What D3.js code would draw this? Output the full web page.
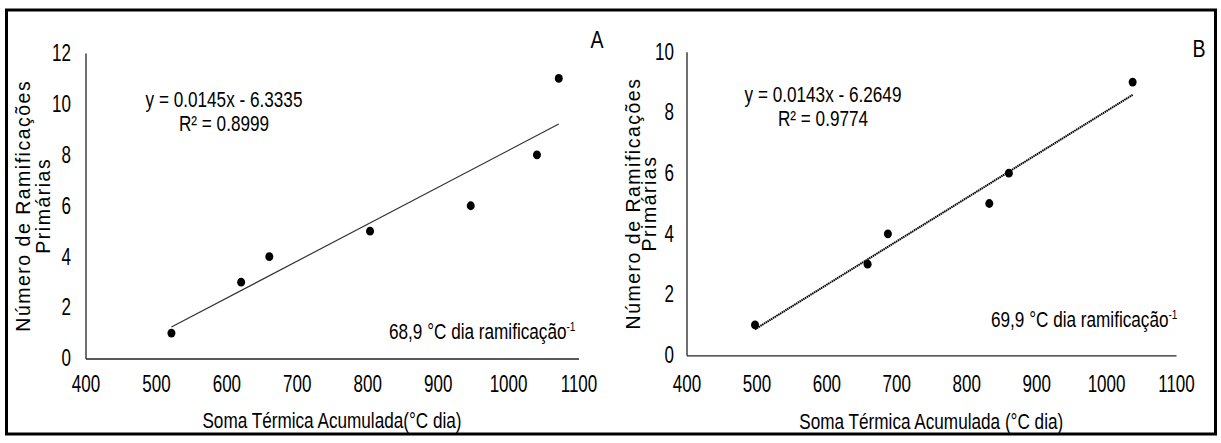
<!DOCTYPE html>
<html>
<head>
<meta charset="utf-8">
<script src="https://cdnjs.cloudflare.com/ajax/libs/d3/7.8.5/d3.min.js"></script>
<style>
  body { margin: 0; background: #fff; }
  svg { display: block; }
  text { font-family: "Liberation Sans", Arial, sans-serif; fill: #000; }
</style>
</head>
<body>
<svg id="chart" width="1221" height="443"></svg>
<script>

// data
var xTicks = [400, 500, 600, 700, 800, 900, 1000, 1100];
var yTicksA = [0, 2, 4, 6, 8, 10, 12];
var yTicksB = [0, 2, 4, 6, 8, 10];

var thermalA = [522, 621, 661, 804, 947, 1041, 1072];
var branchesA = [1, 3, 4, 5, 6, 8, 11];
var thermalB = [498, 659, 688, 833, 861, 1038];
var branchesB = [1, 3, 4, 5, 6, 9];

var slopes = [0.0145, 0.0143];
var intercepts = [-6.3335, -6.2649];
var eqLabels = ["y = 0.0145x - 6.3335", "y = 0.0143x - 6.2649"];
var r2Labels = ["R² = 0.8999", "R² = 0.9774"];
var rateLabels = ["68,9 °C dia ramificação", "69,9 °C dia ramificação"];
var panelLetters = ["A", "B"];
var xTitles = ["Soma Térmica Acumulada(°C dia)", "Soma Térmica Acumulada (°C dia)"];
var yTitle1 = "Número de Ramificações";
var yTitle2 = "Primárias";

var NARROW = 0.78;

var svg = d3.select("#chart");

// outer frame
svg.append("rect")
    .attr("x", 6.5).attr("y", 10)
    .attr("width", 1209).attr("height", 424)
    .attr("fill", "none")
    .attr("stroke", "#000")
    .attr("stroke-width", 3);

// condensed look: move x/y into a transform and squeeze horizontally
function narrow(sel, k) {
    sel.each(function() {
        var t = d3.select(this);
        var x = +t.attr("x") || 0, y = +t.attr("y") || 0;
        t.attr("x", 0).attr("y", 0)
         .attr("transform", "translate(" + x + "," + y + ") scale(" + (k || NARROW) + ",1)");
    });
}

var panels = [
    {xs: thermalA, ys: branchesA, yTicks: yTicksA, yMax: 12,
     xRange: [85.5, 578.5], yRange: [358.5, 53],
     xPad: 17.5, yPad: 14.5, eqX: 224, eqY: [106.5, 130.5],
     rateX: 575.5, rateY: 338.5, letter: [597, 48],
     xTitleY: 428, yTitleX: [29.5, 50], dotted: false},
    {xs: thermalB, ys: branchesB, yTicks: yTicksB, yMax: 10,
     xRange: [686.5, 1176], yRange: [355.3, 51.7],
     xPad: 20.5, yPad: 12.5, eqX: 823, eqY: [102, 125.8],
     rateX: 1177.5, rateY: 326.5, letter: [1199, 57],
     xTitleY: 428.5, yTitleX: [640, 656], dotted: true}
];

panels.forEach(function(p, i) {
    var x = d3.scaleLinear().domain([400, 1100]).range(p.xRange);
    var y = d3.scaleLinear().domain([0, p.yMax]).range(p.yRange);
    var g = svg.append("g");

    var xAxis = g.append("g")
        .attr("transform", "translate(0," + p.yRange[0] + ")")
        .call(d3.axisBottom(x).tickValues(xTicks).tickFormat(d3.format("d"))
              .tickSize(0).tickPadding(p.xPad));
    var yAxis = g.append("g")
        .attr("transform", "translate(" + p.xRange[0] + ",0)")
        .call(d3.axisLeft(y).tickValues(p.yTicks).tickFormat(d3.format("d"))
              .tickSize(0).tickPadding(p.yPad));

    [xAxis, yAxis].forEach(function(a) {
        a.attr("font-size", 23).attr("font-family", null);
        a.select(".domain").attr("stroke", "#222").attr("stroke-width", 1.3);
        a.selectAll("text").attr("fill", "#000");
        narrow(a.selectAll("text"), 0.74);
    });

    // trend line from the fitted equation, across the data range
    var x0 = d3.min(p.xs), x1 = d3.max(p.xs);
    var fit = function(v) { return slopes[i] * v + intercepts[i]; };
    var trend = g.append("line")
        .attr("x1", x(x0)).attr("y1", y(fit(x0)))
        .attr("x2", x(x1)).attr("y2", y(fit(x1)))
        .attr("stroke", p.dotted ? "#000" : "#333")
        .attr("stroke-width", p.dotted ? 2 : 1.2);
    if (p.dotted)
        trend.attr("stroke-dasharray", "1.5,0.6");

    g.selectAll(".dot")
        .data(d3.range(p.xs.length))
        .enter().append("ellipse")
        .attr("class", "dot")
        .attr("cx", function(d) { return x(p.xs[d]); })
        .attr("cy", function(d) { return y(p.ys[d]); })
        .attr("rx", 4).attr("ry", 4.4)
        .attr("fill", "#000");

    // equation + R2
    var eq = g.append("g").attr("font-size", 22).attr("text-anchor", "middle");
    eq.append("text").attr("x", p.eqX).attr("y", p.eqY[0]).text(eqLabels[i]);
    eq.append("text").attr("x", p.eqX).attr("y", p.eqY[1]).text(r2Labels[i]);
    narrow(eq.selectAll("text"));

    // rate annotation with superscript -1
    var rate = g.append("text")
        .attr("x", p.rateX).attr("y", p.rateY)
        .attr("font-size", 22)
        .attr("text-anchor", "end");
    rate.append("tspan").text(rateLabels[i]);
    rate.append("tspan").attr("font-size", 13).attr("dy", -8).text("-1");
    narrow(rate);

    // panel letter
    var letter = g.append("text")
        .attr("x", p.letter[0]).attr("y", p.letter[1])
        .attr("font-size", 23)
        .attr("text-anchor", "middle")
        .text(panelLetters[i]);
    narrow(letter, 0.85);

    // axis titles
    var xt = g.append("text")
        .attr("x", (p.xRange[0] + p.xRange[1]) / 2)
        .attr("y", p.xTitleY)
        .attr("font-size", 22)
        .attr("text-anchor", "middle")
        .text(xTitles[i]);
    narrow(xt);

    var cy = (p.yRange[0] + p.yRange[1]) / 2;
    [yTitle1, yTitle2].forEach(function(t, k) {
        g.append("text")
            .attr("transform", "translate(" + p.yTitleX[k] + "," + cy + ") rotate(-90)")
            .attr("font-size", 19.5)
            .attr("letter-spacing", 1.5)
            .attr("text-anchor", "middle")
            .text(t);
    });
});

</script>
</body>
</html>
